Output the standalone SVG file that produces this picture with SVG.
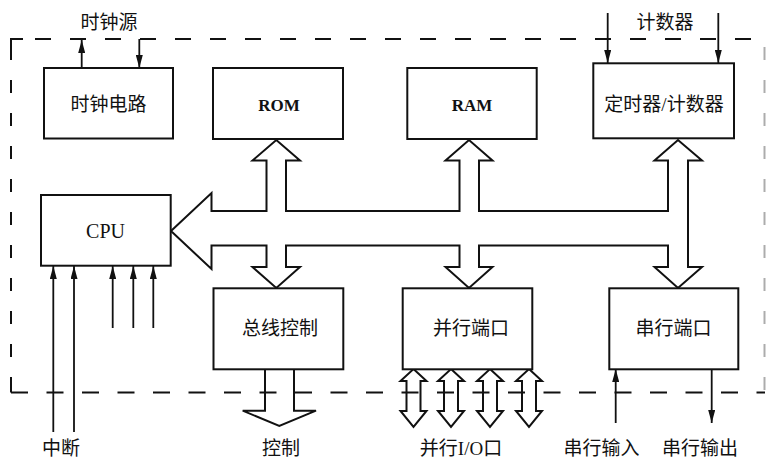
<svg xmlns="http://www.w3.org/2000/svg" width="766" height="459" viewBox="0 0 766 459">
<style>
.box{fill:#fff;stroke:#111;stroke-width:2}
.cjk{font-family:"Liberation Serif","Noto Sans CJK SC",serif;font-size:19px;fill:#111;text-anchor:middle}
.lat{font-family:"Liberation Serif",serif;fill:#111;text-anchor:middle}
.bold{font-weight:bold;font-size:17px}
.ln{stroke:#111;stroke-width:1.8;fill:none}
.big{fill:#fff;stroke:#111;stroke-width:2;stroke-linejoin:miter}
.dash{stroke:#111;stroke-width:2;fill:none}
</style>
<defs>
<marker id="ah" markerWidth="13" markerHeight="7" refX="13" refY="3.5" orient="auto" markerUnits="userSpaceOnUse">
<path d="M0,0 L13,3.5 L0,7 Z" fill="#111"/>
</marker>
</defs>
<rect width="766" height="459" fill="#fff"/>

<g id="connectors">
<!-- system bus -->
<path class="big" d="M171,231 L211.5,193 L211.5,211 L266.5,211 L266.5,160.5 L252.5,160.5 L276.3,140 L300,160.5 L286,160.5 L286,211 L459.5,211 L459.5,160.5 L445.5,160.5 L469,140 L492.5,160.5 L479,160.5 L479,211 L668,211 L668,160.5 L654.5,160.5 L678,140 L702,160.5 L688,160.5 L688,267 L702,267 L678,288 L654.5,267 L668,267 L668,245.5 L479,245.5 L479,267 L492.5,267 L469,288 L445.5,267 L459.5,267 L459.5,245.5 L286,245.5 L286,267 L300,267 L276.3,288 L252.5,267 L266.5,267 L266.5,245.5 L211.5,245.5 L211.5,269 Z"/>
<!-- clock source -->
<line class="ln" x1="81.7" y1="68" x2="81.7" y2="40" marker-end="url(#ah)"/>
<line class="ln" x1="139.3" y1="39" x2="139.3" y2="68" marker-end="url(#ah)"/>
<!-- counter inputs -->
<line class="ln" x1="607.7" y1="13" x2="607.7" y2="63" marker-end="url(#ah)"/>
<line class="ln" x1="718.3" y1="13" x2="718.3" y2="63" marker-end="url(#ah)"/>
<!-- interrupts and CPU inputs -->
<line class="ln" x1="53.3" y1="432" x2="53.3" y2="266" marker-end="url(#ah)"/>
<line class="ln" x1="74" y1="432" x2="74" y2="266" marker-end="url(#ah)"/>
<line class="ln" x1="112.7" y1="328" x2="112.7" y2="266" marker-end="url(#ah)"/>
<line class="ln" x1="133.3" y1="328" x2="133.3" y2="266" marker-end="url(#ah)"/>
<line class="ln" x1="153.3" y1="328" x2="153.3" y2="266" marker-end="url(#ah)"/>
<!-- control output -->
<path class="big" d="M265,369 L265,410.7 L242.7,410.7 L279.3,426 L316,410.7 L294,410.7 L294,369"/>
<!-- parallel I/O -->
<path class="big" d="M413.5,369 L426.5,381 L420.5,381 L420.5,411 L426.5,411 L413.5,427 L400.5,411 L406.5,411 L406.5,381 L400.5,381 Z"/>
<path class="big" d="M451,369 L464,381 L458,381 L458,411 L464,411 L451,427 L438,411 L444,411 L444,381 L438,381 Z"/>
<path class="big" d="M490,369 L503,381 L497,381 L497,411 L503,411 L490,427 L477,411 L483,411 L483,381 L477,381 Z"/>
<path class="big" d="M529,369 L542,381 L536,381 L536,411 L542,411 L529,427 L516,411 L522,411 L522,381 L516,381 Z"/>
<!-- serial -->
<line class="ln" x1="615.7" y1="423" x2="615.7" y2="369" marker-end="url(#ah)"/>
<line class="ln" x1="711.7" y1="369" x2="711.7" y2="423" marker-end="url(#ah)"/>
</g>

<g id="border">
<line class="dash" x1="11" y1="39" x2="765" y2="39" stroke-dasharray="16 19" stroke-dashoffset="11"/>
<path class="dash" d="M23,39 H11 V48"/>
<line class="dash" x1="11" y1="39" x2="11" y2="392.5" stroke-dasharray="13 20" stroke-dashoffset="25"/>
<line class="dash" x1="11" y1="392.5" x2="765" y2="392.5" stroke-dasharray="17 18.5"/>
<path class="dash" d="M11,380 V392.5"/>
<line class="dash" x1="764.5" y1="39" x2="764.5" y2="392.5" stroke-dasharray="13 20" stroke-dashoffset="25" stroke-opacity="0.35"/>
</g>

<g id="clock">
<rect class="box" x="44" y="68" width="129" height="70.5"/>
<text class="cjk" x="108.5" y="111">时钟电路</text>
</g>
<g id="rom">
<rect class="box" x="213" y="68" width="130" height="71"/>
<text class="lat bold" x="279" y="111">ROM</text>
</g>
<g id="ram">
<rect class="box" x="407.3" y="68" width="129.4" height="71"/>
<text class="lat bold" x="472" y="111">RAM</text>
</g>
<g id="timer">
<rect class="box" x="593.3" y="63.3" width="140.7" height="75"/>
<text class="cjk" x="664" y="111" font-size="20">定时器/计数器</text>
</g>
<g id="cpu">
<rect class="box" x="41" y="195" width="129.7" height="70.7"/>
<text class="lat" x="105.5" y="238" font-size="20">CPU</text>
</g>
<g id="busctrl">
<rect class="box" x="213.5" y="288.3" width="129.8" height="81"/>
<text class="cjk" x="280" y="335">总线控制</text>
</g>
<g id="pport">
<rect class="box" x="402.7" y="288.3" width="129.6" height="81"/>
<text class="cjk" x="471" y="335">并行端口</text>
</g>
<g id="sport">
<rect class="box" x="609.3" y="288.3" width="129" height="81"/>
<text class="cjk" x="673.5" y="335">串行端口</text>
</g>

<g id="labels">
<text class="cjk" x="109" y="29">时钟源</text>
<text class="cjk" x="665" y="29">计数器</text>
<text class="cjk" x="61" y="455">中断</text>
<text class="cjk" x="281" y="455">控制</text>
<text class="cjk" x="461" y="455">并行I/O口</text>
<text class="cjk" x="601.5" y="455">串行输入</text>
<text class="cjk" x="700" y="455">串行输出</text>
</g>
</svg>
